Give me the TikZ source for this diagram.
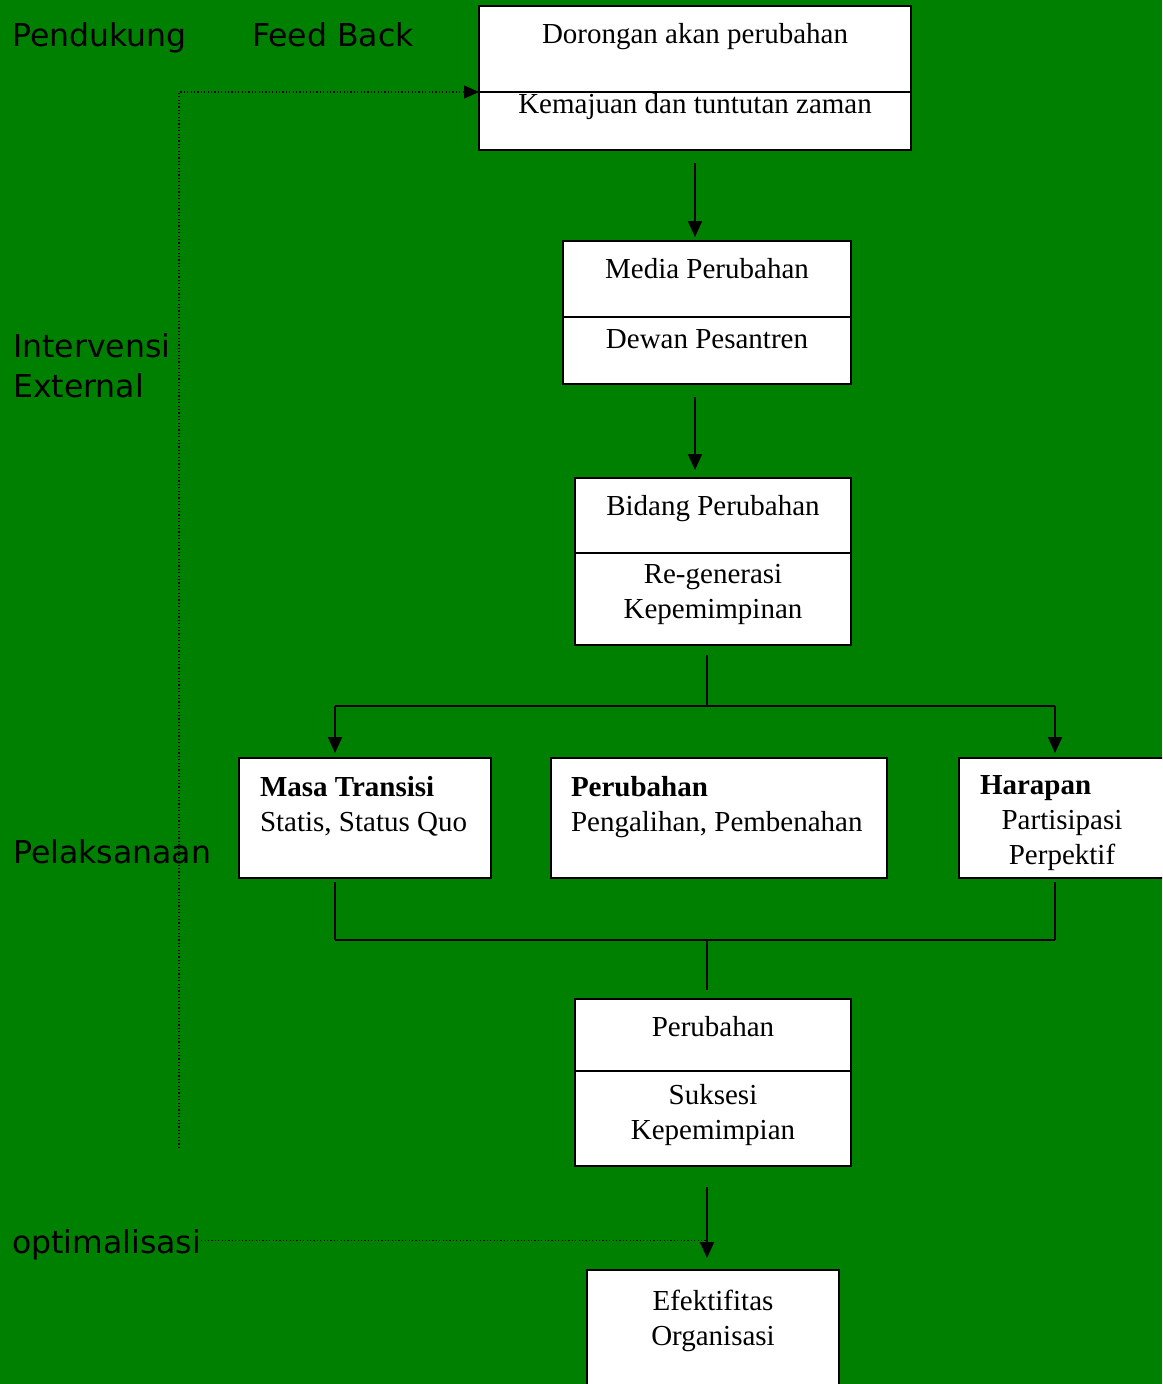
\documentclass[tikz,border=0pt]{standalone}
\usepackage{fontspec}
\setmainfont{Liberation Serif}
\newfontfamily\sidefont{DejaVu Sans}
\usepackage{tikz}
\usetikzlibrary{arrows.meta, positioning, calc}
\definecolor{bggreen}{RGB}{0,128,0}
\newcommand{\partfont}{\fontsize{29}{35}\selectfont}
\newcommand{\sidelabelfont}{\sidefont\fontsize{31.5}{40}\selectfont}
\tikzset{
  part/.style={rectangle, draw=black, fill=white, line width=2pt,
    inner sep=0pt, outer sep=0pt, align=flush center, font=\partfont},
  sidelabel/.style={font=\sidelabelfont, text=black, inner sep=0pt,
    anchor=base west, align=flush left, text width=220pt},
  arrow/.style={-{Triangle[length=16pt, width=14pt]}, line width=2pt, color=black},
  line/.style={line width=2pt, color=black},
  feedback/.style={line width=1.2pt, dash pattern=on 1.2pt off 2.2pt, color=black}
}

\begin{document}
\begin{tikzpicture}[x=1pt, y=-1pt]

  % Page
  \useasboundingbox (0,0) rectangle (1162,1384);
  \clip (0,0) rectangle (1162,1384);
  \fill[bggreen] (0,0) rectangle (1162,1384);

  % Side labels
  \node[sidelabel] (pendukung) at (12,46) {Pendukung};
  \node[sidelabel] (feedback) at (252,46) {Feed Back};
  \node[sidelabel] (intervensi) at (13,357) {Intervensi\\External};
  \node[sidelabel] (pelaksanaan) at (13,863) {Pelaksanaan};
  \node[sidelabel, text width=] (optimalisasi) at (12,1253) {optimalisasi};

  % Dorongan
  \node[part, text width=432pt, text height=37pt, text depth=49pt, anchor=north]
    (dorongan) at (695,6) {Dorongan akan perubahan};
  \node[part, text width=432pt, text height=21pt, text depth=37pt, below=0pt of dorongan]
    (kemajuan) {Kemajuan dan tuntutan zaman};

  % Media
  \node[part, text width=288pt, text height=37pt, text depth=39pt, anchor=north]
    (media) at (707,241) {Media Perubahan};
  \node[part, text width=288pt, text height=31pt, text depth=36pt, below=0pt of media]
    (dewan) {Dewan Pesantren};

  % Bidang
  \node[part, text width=276pt, text height=37pt, text depth=38pt, anchor=north]
    (bidang) at (713,478) {Bidang Perubahan};
  \node[part, text width=276pt, text height=30pt, text depth=62pt, below=0pt of bidang]
    (regenerasi) {Re-generasi\\Kepemimpinan};

  % Pelaksanaan
  \node[part, inner xsep=21pt, text width=210pt, text height=38pt, text depth=82pt,
    align=flush left, anchor=north] (masa) at (365,758)
    {\textbf{Masa Transisi}\\\mbox{Statis, Status Quo}};
  \node[part, inner xsep=20pt, text width=296pt, text height=38pt, text depth=82pt,
    align=flush left, anchor=north] (pengalihan) at (719,758)
    {\textbf{Perubahan}\\Pengalihan, Pembenahan};
  \node[part, inner xsep=21pt, text width=164pt, text height=36pt, text depth=84pt,
    anchor=north] (harapan) at (1062,758)
    {\makebox[164pt][l]{\textbf{Harapan}}\\Partisipasi\\Perpektif};

  % Perubahan
  \node[part, text width=276pt, text height=37pt, text depth=35pt, anchor=north]
    (perubahan) at (713,999) {Perubahan};
  \node[part, text width=276pt, text height=33pt, text depth=62pt, below=0pt of perubahan]
    (suksesi) {Suksesi\\Kepemimpian};

  % Efektifitas
  \node[part, text width=252pt, text height=40pt, text depth=130pt, anchor=north]
    (efektif) at (713,1270) {Efektifitas\\Organisasi};

  % Junctions
  \coordinate (split) at (707,706);
  \coordinate (splitL) at (335,706);
  \coordinate (splitR) at (1055,706);
  \coordinate (join) at (707,940);
  \coordinate (joinL) at (335,940);
  \coordinate (joinR) at (1055,940);
  \coordinate (fbstart) at (179,1148);

  % Connections
  \draw[arrow, shorten <=13pt, shorten >=4pt] (kemajuan.south) -- (kemajuan.south |- media.north);
  \draw[arrow, shorten <=13pt, shorten >=8pt] (kemajuan.south |- dewan.south) -- (kemajuan.south |- bidang.north);
  \draw[line, shorten <=10pt] (split |- regenerasi.south) -- (split);
  \draw[line] (splitL) -- (splitR);
  \draw[arrow, shorten >=5pt] (splitL) -- (splitL |- masa.north);
  \draw[arrow, shorten >=5pt] (splitR) -- (splitR |- harapan.north);

  \draw[line, shorten <=4pt] (joinL |- masa.south) -- (joinL);
  \draw[line, shorten <=4pt] (joinR |- harapan.south) -- (joinR);
  \draw[line] (joinL) -- (joinR);
  \draw[line, shorten >=9pt] (join) -- (join |- perubahan.north);
  \draw[arrow, shorten <=21pt, shorten >=12pt] (join |- suksesi.south) -- (join |- efektif.north);

  % Feedback
  \draw[feedback, -{Triangle[length=15pt, width=13pt]}] (fbstart) |- (kemajuan.north west);
  \draw[feedback] ([yshift=4pt]optimalisasi.east) -- ([yshift=4pt]optimalisasi.east -| join);

\end{tikzpicture}
\end{document}
